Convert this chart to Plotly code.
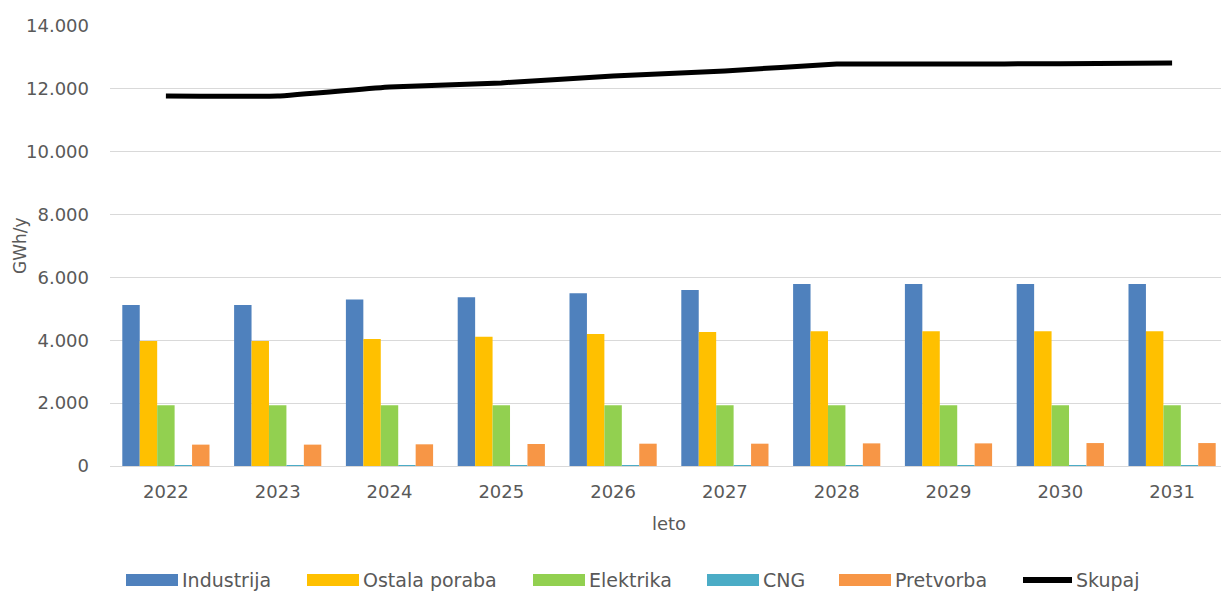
import plotly.graph_objects as go

years = ["2022", "2023", "2024", "2025", "2026", "2027", "2028", "2029", "2030", "2031"]
industrija = [5120, 5120, 5300, 5370, 5500, 5600, 5790, 5790, 5790, 5790]
ostala = [3980, 3980, 4040, 4110, 4200, 4260, 4290, 4290, 4290, 4290]
elektrika = [1930, 1930, 1930, 1930, 1930, 1930, 1930, 1930, 1930, 1930]
cng = [30, 30, 30, 30, 30, 30, 30, 30, 30, 30]
pretvorba = [680, 680, 690, 700, 710, 710, 720, 720, 730, 730]
skupaj = [11770, 11770, 12060, 12190, 12410, 12570, 12790, 12790, 12800, 12820]

FONT = "DejaVu Sans"
TXT = "#595959"
OFF = 8  # page body margin offset
W, H = 1229 - OFF, 591 - OFF
# target plot area in page pixels: x 110..1228, y 26..466
ML, MT = 110 - OFF, 26 - OFF
MR = W - (1228 - OFF)
MB = H - (466 - OFF)
PW, PH = W - ML - MR, H - MT - MB


def px_x(p):
    return (p - OFF - ML) / PW


def px_y(p):
    return (H - MB - (p - OFF)) / PH


fig = go.Figure()
series = [("Industrija", industrija, "#4F81BD"),
          ("Ostala poraba", ostala, "#FFC000"),
          ("Elektrika", elektrika, "#92D050"),
          ("CNG", cng, "#4BACC6"),
          ("Pretvorba", pretvorba, "#F79646")]
for name, vals, col in series:
    fig.add_trace(go.Bar(x=years, y=vals, name=name, marker_color=col,
                         marker_line_width=0, showlegend=False))
fig.add_trace(go.Scatter(x=years, y=skupaj, name="Skupaj", mode="lines", showlegend=False,
                         line=dict(color="black", width=5, shape="spline", smoothing=0.3)))

# manual legend (wide swatches like the reference), page pixel positions
legend_items = [("Industrija", "#4F81BD", 126, "bar"),
                ("Ostala poraba", "#FFC000", 307, "bar"),
                ("Elektrika", "#92D050", 533, "bar"),
                ("CNG", "#4BACC6", 707, "bar"),
                ("Pretvorba", "#F79646", 839, "bar"),
                ("Skupaj", "black", 1020, "line")]
ly = 580
for label, col, x0, kind in legend_items:
    if kind == "bar":
        fig.add_shape(type="rect", xref="paper", yref="paper",
                      x0=px_x(x0), x1=px_x(x0 + 52), y0=px_y(ly + 6), y1=px_y(ly - 6),
                      fillcolor=col, line_width=0)
    else:
        fig.add_shape(type="line", xref="paper", yref="paper",
                      x0=px_x(x0 + 3), x1=px_x(x0 + 52), y0=px_y(ly), y1=px_y(ly),
                      line=dict(color=col, width=6))
    fig.add_annotation(text=label, xref="paper", yref="paper", x=px_x(x0 + 54), y=px_y(ly),
                       xanchor="left", yanchor="middle", showarrow=False,
                       font=dict(family=FONT, size=19, color=TXT))

# y-axis title
fig.add_annotation(text="GWh/y", xref="paper", yref="paper", x=px_x(20), y=px_y(246),
                   xanchor="center", yanchor="middle", textangle=-90, showarrow=False,
                   font=dict(family=FONT, size=17, color=TXT))

fig.update_layout(
    width=W, height=H,
    margin=dict(l=ML, r=MR, t=MT, b=MB),
    plot_bgcolor="white", paper_bgcolor="white",
    barmode="group", bargap=0.22, bargroupgap=0,
    separators=",.",
    showlegend=False,
    font=dict(family=FONT, size=18, color=TXT),
    xaxis=dict(title=dict(text="leto", font=dict(size=18), standoff=16),
               automargin=False,
               showline=True, linecolor="#d9d9d9", linewidth=1,
               ticks="", tickfont=dict(size=18), ticklabelstandoff=9),
    yaxis=dict(automargin=False,
               range=[0, 14000], dtick=2000, tickformat=",.0f",
               gridcolor="#d9d9d9", gridwidth=1, zeroline=False,
               ticks="", tickfont=dict(size=18), ticklabelstandoff=20),
)
fig.write_html("out.html")
